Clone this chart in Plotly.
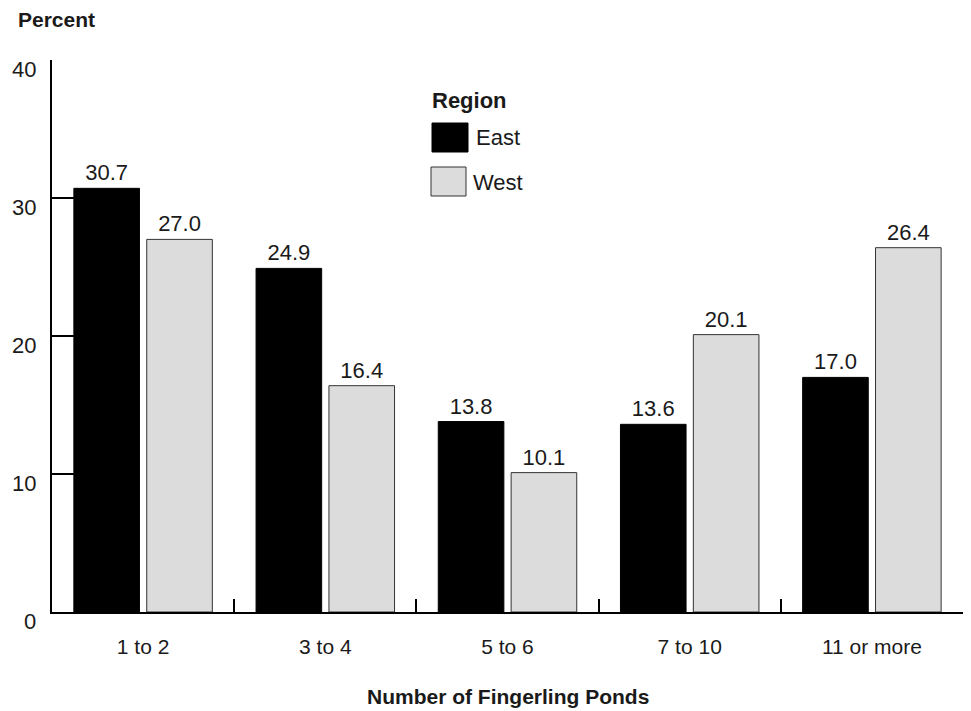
import plotly.graph_objects as go

categories = ["1 to 2", "3 to 4", "5 to 6", "7 to 10", "11 or more"]
east = [30.7, 24.9, 13.8, 13.6, 17.0]
west = [27.0, 16.4, 10.1, 20.1, 26.4]
series_names = ["East", "West"]
y_ticks = [0, 10, 20, 30, 40]

FONT = "Liberation Sans, Arial, Helvetica, sans-serif"
TXT = "#1a1a1a"
EAST_C = "#000000"
WEST_C = "#dcdcdc"

OFF = 8  # page body margin
# plot area in page pixels: x 52..963, y 60..612
W, H = 963, 703
L, R, T, B = 52 - OFF, 8, 60 - OFF, 99
pw, ph = W - L - R, H - T - B

def px(x):  # page pixel -> paper x
    return (x - OFF - L) / pw

def py(y):  # page pixel -> paper y
    return (H - B - (y - OFF)) / ph

fig = go.Figure()
fig.add_trace(go.Bar(
    x=categories, y=east, name=series_names[0],
    marker=dict(color=EAST_C, line=dict(color="#000000", width=1)),
    text=[f"{v:.1f}" for v in east], textposition="outside",
    textfont=dict(size=22, color=TXT, family=FONT), cliponaxis=False,
))
fig.add_trace(go.Bar(
    x=categories, y=west, name=series_names[1],
    marker=dict(color=WEST_C, line=dict(color="#333333", width=1)),
    text=[f"{v:.1f}" for v in west], textposition="outside",
    textfont=dict(size=22, color=TXT, family=FONT), cliponaxis=False,
))

annotations = []
for t in y_ticks:
    annotations.append(dict(
        x=px(38), xref="paper", y=t, yref="y", yshift=-9,
        text=str(t), showarrow=False, xanchor="right", yanchor="middle",
        font=dict(size=22, color=TXT, family=FONT),
    ))
annotations += [
    dict(x=px(16), y=py(19), xref="paper", yref="paper", text="<b>Percent</b>",
         showarrow=False, xanchor="left", yanchor="middle",
         font=dict(size=21, color=TXT, family=FONT)),
    dict(x=px(508), y=py(696), xref="paper", yref="paper",
         text="<b>Number of Fingerling Ponds</b>", showarrow=False,
         xanchor="center", yanchor="middle",
         font=dict(size=21, color=TXT, family=FONT)),
    dict(x=px(430), y=py(100), xref="paper", yref="paper", text="<b>Region</b>",
         showarrow=False, xanchor="left", yanchor="middle",
         font=dict(size=22, color=TXT, family=FONT)),
    dict(x=px(474), y=py(138), xref="paper", yref="paper", text=series_names[0],
         showarrow=False, xanchor="left", yanchor="middle",
         font=dict(size=22, color=TXT, family=FONT)),
    dict(x=px(471), y=py(182), xref="paper", yref="paper", text=series_names[1],
         showarrow=False, xanchor="left", yanchor="middle",
         font=dict(size=22, color=TXT, family=FONT)),
]

shapes = [
    dict(type="rect", xref="paper", yref="paper", x0=px(432), x1=px(468),
         y0=py(152), y1=py(123), fillcolor=EAST_C, line=dict(color="#000", width=1)),
    dict(type="rect", xref="paper", yref="paper", x0=px(431), x1=px(466),
         y0=py(196), y1=py(167), fillcolor=WEST_C, line=dict(color="#333", width=1)),
]

fig.update_layout(
    width=W, height=H,
    margin=dict(l=L, r=R, t=T, b=B),
    paper_bgcolor="white", plot_bgcolor="white",
    barmode="group", bargap=0.2, bargroupgap=0.1,
    showlegend=False,
    font=dict(family=FONT, size=21, color=TXT),
    annotations=annotations, shapes=shapes,
    xaxis=dict(
        type="category", showline=True, linecolor="#000", linewidth=2,
        ticks="inside", tickson="boundaries", ticklen=13, tickwidth=2, tickcolor="#000",
        showgrid=False, zeroline=False, ticklabelstandoff=15,
        tickfont=dict(size=21, color=TXT, family=FONT),
        range=[-0.5, 4.5],
    ),
    yaxis=dict(
        range=[0, 40], tickvals=y_ticks, showticklabels=False,
        showline=True, linecolor="#000", linewidth=2,
        ticks="inside", ticklen=22, tickwidth=2, tickcolor="#000",
        showgrid=False, zeroline=False,
    ),
)

fig.write_html("out.html")
